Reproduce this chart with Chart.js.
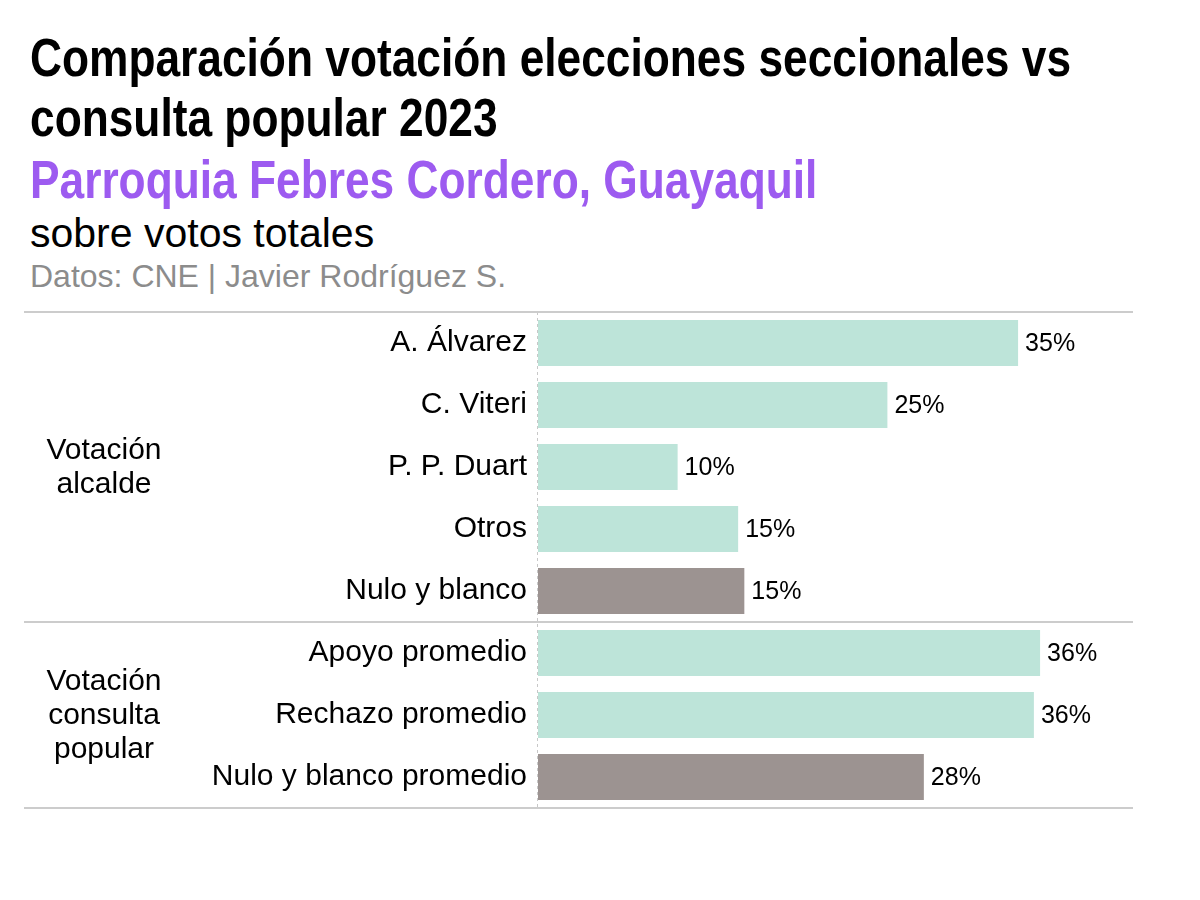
<!DOCTYPE html>
<html>
<head>
<meta charset="utf-8">
<script src="https://cdn.jsdelivr.net/npm/chart.js@4"></script>
<style>
  html, body { margin: 0; padding: 0; background: #fff; }
  body { width: 1200px; height: 900px; position: relative; overflow: hidden; font-family: "Liberation Sans", Arial, sans-serif; }
  #wrap { position: absolute; left: 0; top: 0; width: 1200px; height: 900px; }
  .t { position: absolute; left: 30px; white-space: nowrap; }
  .narrow { font-family: "Liberation Sans", Arial, sans-serif; font-weight: bold; font-size: 54px; line-height: 60px; transform: scaleX(0.82); transform-origin: 0 0; }
  .title { color: #000; top: 27px; }
  .sub { color: #9D5BF0; top: 149px; }
  .note { font-size: 41px; line-height: 44px; color: #000; top: 211px; }
  .src { font-size: 32px; line-height: 36px; color: #8c8c8c; top: 258px; }
</style>
</head>
<body>
<div class="t narrow title">Comparación votación elecciones seccionales vs<br>consulta popular 2023</div>
<div class="t narrow sub">Parroquia Febres Cordero, Guayaquil</div>
<div class="t note">sobre votos totales</div>
<div class="t src">Datos: CNE | Javier Rodríguez S.</div>
<div id="wrap"><canvas id="c" width="1200" height="900"></canvas></div>
<script>
const categories = ["A. Álvarez", "C. Viteri", "P. P. Duart", "Otros", "Nulo y blanco", "Apoyo promedio", "Rechazo promedio", "Nulo y blanco promedio"];
const values = [34.9, 25.4, 10.15, 14.55, 15.0, 36.5, 36.05, 28.05];
const valueLabels = ["35%", "25%", "10%", "15%", "15%", "36%", "36%", "28%"];
const barColors = ["#BDE4D9", "#BDE4D9", "#BDE4D9", "#BDE4D9", "#9C9391", "#BDE4D9", "#BDE4D9", "#9C9391"];
const groups = [
  { lines: ["Votación", "alcalde"], from: 0, to: 4 },
  { lines: ["Votación", "consulta", "popular"], from: 5, to: 7 }
];
const xMax = 43.4;
const FONT = '"Liberation Sans", Arial, sans-serif';

const decor = {
  id: 'decor',
  afterDatasetsDraw(chart) {
    const ctx = chart.ctx;
    const ca = chart.chartArea;
    const y = chart.scales.y;
    const meta = chart.getDatasetMeta(0);
    ctx.save();
    // value labels
    ctx.font = '25px ' + FONT;
    ctx.fillStyle = '#000';
    ctx.textAlign = 'left';
    ctx.textBaseline = 'middle';
    meta.data.forEach((bar, i) => {
      ctx.fillText(valueLabels[i], bar.x + 7, bar.y + 1);
    });
    // dashed axis line
    ctx.strokeStyle = '#c8c8c8';
    ctx.lineWidth = 1;
    ctx.setLineDash([3, 3]);
    ctx.beginPath();
    ctx.moveTo(ca.left - 0.5, ca.top);
    ctx.lineTo(ca.left - 0.5, ca.bottom);
    ctx.stroke();
    ctx.setLineDash([]);
    // separators
    const band = (ca.bottom - ca.top) / categories.length;
    const sepYs = [ca.top, ca.top + band * 5, ca.bottom];
    ctx.strokeStyle = '#cccccc';
    ctx.lineWidth = 2;
    sepYs.forEach(sy => {
      ctx.beginPath();
      ctx.moveTo(24, sy);
      ctx.lineTo(ca.right - 2, sy);
      ctx.stroke();
    });
    // group labels
    ctx.font = '30px ' + FONT;
    ctx.fillStyle = '#000';
    ctx.textAlign = 'center';
    ctx.textBaseline = 'middle';
    groups.forEach(g => {
      const top = y.getPixelForValue(g.from) - band / 2;
      const bot = y.getPixelForValue(g.to) + band / 2;
      const mid = (top + bot) / 2;
      const lh = 34;
      g.lines.forEach((ln, k) => {
        ctx.fillText(ln, 104, mid + 1 + (k - (g.lines.length - 1) / 2) * lh);
      });
    });
    ctx.restore();
  }
};

new Chart(document.getElementById('c'), {
  type: 'bar',
  data: {
    labels: categories,
    datasets: [{
      data: values,
      backgroundColor: barColors,
      borderWidth: 0,
      categoryPercentage: 1.0,
      barPercentage: 0.74
    }]
  },
  options: {
    indexAxis: 'y',
    responsive: false,
    animation: false,
    devicePixelRatio: 1,
    layout: { padding: { top: 312, bottom: 92, right: 65, left: 0 } },
    plugins: { legend: { display: false }, tooltip: { enabled: false }, title: { display: false } },
    scales: {
      x: { display: false, min: 0, max: xMax },
      y: {
        grid: { display: false, drawTicks: false },
        border: { display: false },
        ticks: { color: '#000', font: { size: 30, family: FONT }, padding: 11 },
        afterFit(scale) { scale.width = 538; }
      }
    }
  },
  plugins: [decor]
});
</script>
</body>
</html>
